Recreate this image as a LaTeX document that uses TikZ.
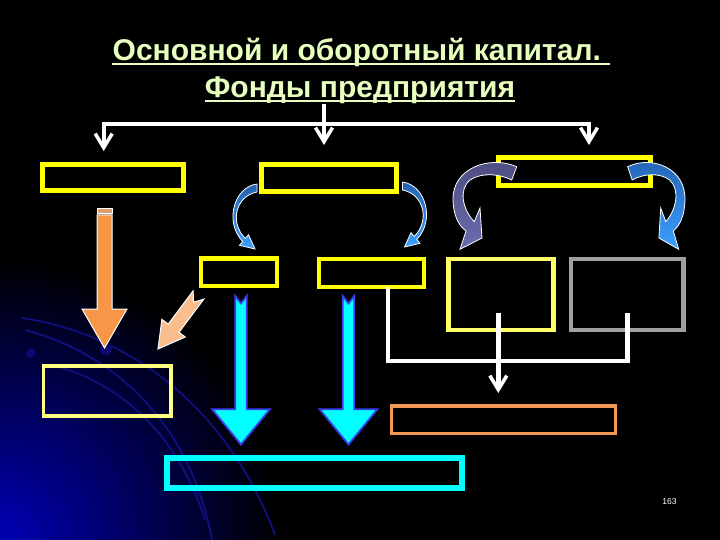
\documentclass[tikz,border=0pt]{standalone}
\usepackage{fontspec}
\setmainfont{Liberation Sans}
\usetikzlibrary{arrows.meta}
\definecolor{titlec}{RGB}{230,255,190}
\definecolor{yel}{RGB}{255,255,0}
\definecolor{ylight}{RGB}{255,255,102}
\definecolor{ypale}{RGB}{255,255,128}
\definecolor{greyb}{RGB}{160,160,160}
\definecolor{orab}{RGB}{240,152,84}
\definecolor{cyanb}{RGB}{0,255,255}
\definecolor{oraarrow}{RGB}{246,150,70}
\definecolor{orabar}{RGB}{220,160,110}
\definecolor{peach}{RGB}{250,190,142}
\definecolor{cyanedge}{RGB}{60,60,240}
\definecolor{bluedark}{RGB}{36,98,178}
\definecolor{bluelight}{RGB}{60,160,255}
\definecolor{slatedark}{RGB}{76,76,128}
\definecolor{slatelight}{RGB}{108,108,176}
\definecolor{glowc}{RGB}{0,0,180}
\definecolor{arcc}{RGB}{18,18,135}
\definecolor{dotc}{RGB}{10,10,110}
\tikzset{chevtip/.tip={Straight Barb[length=14pt,width=17pt,line width=3.5pt,sharp]}}
\begin{document}
\begin{tikzpicture}[x=1pt,y=-1pt,
  boxn/.style={draw=yel,line width=5,minimum width=#1,inner sep=0,outer sep=0},
  wline/.style={draw=white,line width=4.2,line join=miter},
  titlen/.style={text=titlec,font=\bfseries\fontsize{30}{34}\selectfont,inner sep=0,anchor=base},
  uline/.style={draw=titlec,line width=2.5},
  blockarrow/.style={draw=white,line width=1,line join=miter},
  cyanarrow/.style={fill=cyanb,draw=cyanedge,line width=1.8,line join=miter},
  curvblue/.style={draw=white,line width=0.8,top color=bluedark,bottom color=bluelight},
  curvslate/.style={draw=white,line width=0.8,top color=slatedark,bottom color=slatelight},
  bgarc/.style={draw=arcc,line width=1.8,opacity=0.9}]
\useasboundingbox (0,0) rectangle (720,540);
% background
\fill[black] (0,0) rectangle (720,540);
\begin{scope}
\clip (0,0) rectangle (720,540);
\shade[inner color=glowc,outer color=black] (0,540) circle (280);
\draw[bgarc] (22,318) .. controls (120,332) and (225,400) .. (275,535);
\draw[bgarc] (25,330) .. controls (110,352) and (190,420) .. (212,540);
\draw[bgarc] (55,366) .. controls (110,380) and (175,425) .. (205,520);
\fill[dotc] (31,353) circle (5);
\fill[dotc] (106,349) circle (6);
\fill[dotc,opacity=0.6] (197,492) circle (5);
\end{scope}
% title
\node[titlen] (t1) at (361,61) {Основной и оборотный капитал.\rule{0.28em}{0pt}};
\node[titlen] (t2) at (360,98) {Фонды предприятия};
\draw[uline] ([yshift=-3.2pt]t1.base west) -- ([yshift=-3.2pt]t1.base east);
\draw[uline] ([yshift=-3.2pt]t2.base west) -- ([yshift=-3.2pt]t2.base east);
% boxes
\node[boxn=140.5,minimum height=26.5] (b1) at (112.75,177.5) {};
\node[boxn=134.3,minimum height=27.6] (b2) at (328.85,178) {};
\node[boxn=151.7,minimum height=28.3] (b3) at (574.35,171.65) {};
\node[boxn=76,minimum height=27.3,line width=4.5] (b4) at (239,272.35) {};
\node[boxn=105,minimum height=27.8,line width=4.5] (b5) at (371.5,272.9) {};
\node[boxn=105.2,minimum height=71,line width=4.5,draw=ylight] (b6) at (500.9,294.5) {};
\node[boxn=112.7,minimum height=71,line width=4.5,draw=greyb] (b7) at (627.15,294.5) {};
\node[boxn=127.6,minimum height=50,line width=3.3,draw=ypale] (b8) at (107.2,391) {};
\node[boxn=224,minimum height=27.7,line width=3.3,draw=orab] (b9) at (503.7,419.85) {};
\node[boxn=295.4,minimum height=30,line width=6,draw=cyanb] (b10) at (314.7,472.6) {};
% top white connector
\coordinate (t0) at (324,104);
\coordinate (j0) at (324,123.7);
\coordinate (jl) at (103.7,123.7);
\coordinate (jr) at (589,123.7);
\coordinate (al) at (103.7,151);
\coordinate (ac) at (324,145);
\coordinate (ar) at (589,145);
\draw[wline,chevtip-chevtip] (al) -- (jl) -- (jr) -- (ar);
\draw[wline,-chevtip] (t0) -- (j0) -- (ac);
% bottom white connector
\coordinate (q1) at (388,360.8);
\coordinate (q2) at (627.5,360.8);
\coordinate (q3) at (627.5,313.3);
\draw[wline,line width=4.6] (b5.south -| q1) -- (q1) -- (q2) -- (q3);
\coordinate (m0) at (498.3,313.3);
\coordinate (m1) at (498.3,393);
\draw[wline,line width=4.6,-chevtip] (m0) -- (m1);
% orange arrow
\draw[blockarrow,fill=orabar] (97,209) rectangle (112,213.5);
\draw[blockarrow,fill=oraarrow] (97,215) -- (112,215) -- (112,309) -- (127,309) -- (104.5,348) -- (82,309) -- (97,309) -- cycle;
% peach arrow
\draw[blockarrow,fill=peach] (203.9,299.1) -- (179,332.3) -- (185.3,337) -- (158,349) -- (161.9,319.4) -- (168.2,324.1) -- (193.1,290.9) -- (193.6,302.2) -- cycle;
% cyan arrows
\draw[cyanarrow] (235.3,296) -- (241,303.5) -- (246.7,296) -- (246.7,409.2) -- (269.9,409.2) -- (241,444.5) -- (212.1,409.2) -- (235.3,409.2) -- cycle;
\draw[cyanarrow] (342.8,296) -- (348.5,303.5) -- (354.2,296) -- (354.2,409.2) -- (377.4,409.2) -- (348.5,444.5) -- (319.6,409.2) -- (342.8,409.2) -- cycle;
% curved arrows near b2
\draw[curvblue] (257,184) .. controls (234,187) and (224,222) .. (242.7,241.5) -- (239.5,245.3) -- (255,249) -- (248.5,234.7) -- (245.3,238.5) .. controls (229,222) and (236,196) .. (257,192) -- cycle;
\begin{scope}[shift={(659.5,-2)},xscale=-1]
\draw[curvblue] (257,184) .. controls (234,187) and (224,222) .. (242.7,241.5) -- (239.5,245.3) -- (255,249) -- (248.5,234.7) -- (245.3,238.5) .. controls (229,222) and (236,196) .. (257,192) -- cycle;
\end{scope}
% curved arrows near b3
\draw[curvslate] (516.7,166.7) .. controls (490,155) and (452,168) .. (453,200) .. controls (453.5,215) and (458,225) .. (466,231) -- (460,249.3) -- (482,238) -- (480,208) -- (474.3,221.7) .. controls (463,210) and (458,190) .. (470,180) .. controls (482,172) and (500,174) .. (511.7,180) -- cycle;
\begin{scope}[shift={(1092.7,0)},xscale=-0.9]
\draw[curvblue] (516.7,166.7) .. controls (490,155) and (452,168) .. (453,200) .. controls (453.5,215) and (458,225) .. (466,231) -- (460,249.3) -- (482,238) -- (480,208) -- (474.3,221.7) .. controls (463,210) and (458,190) .. (470,180) .. controls (482,172) and (500,174) .. (511.7,180) -- cycle;
\end{scope}
% page number
\node[text=white,font=\fontsize{8.5}{10}\selectfont,inner sep=0] (pg) at (669.5,502) {163};
\end{tikzpicture}
\end{document}
